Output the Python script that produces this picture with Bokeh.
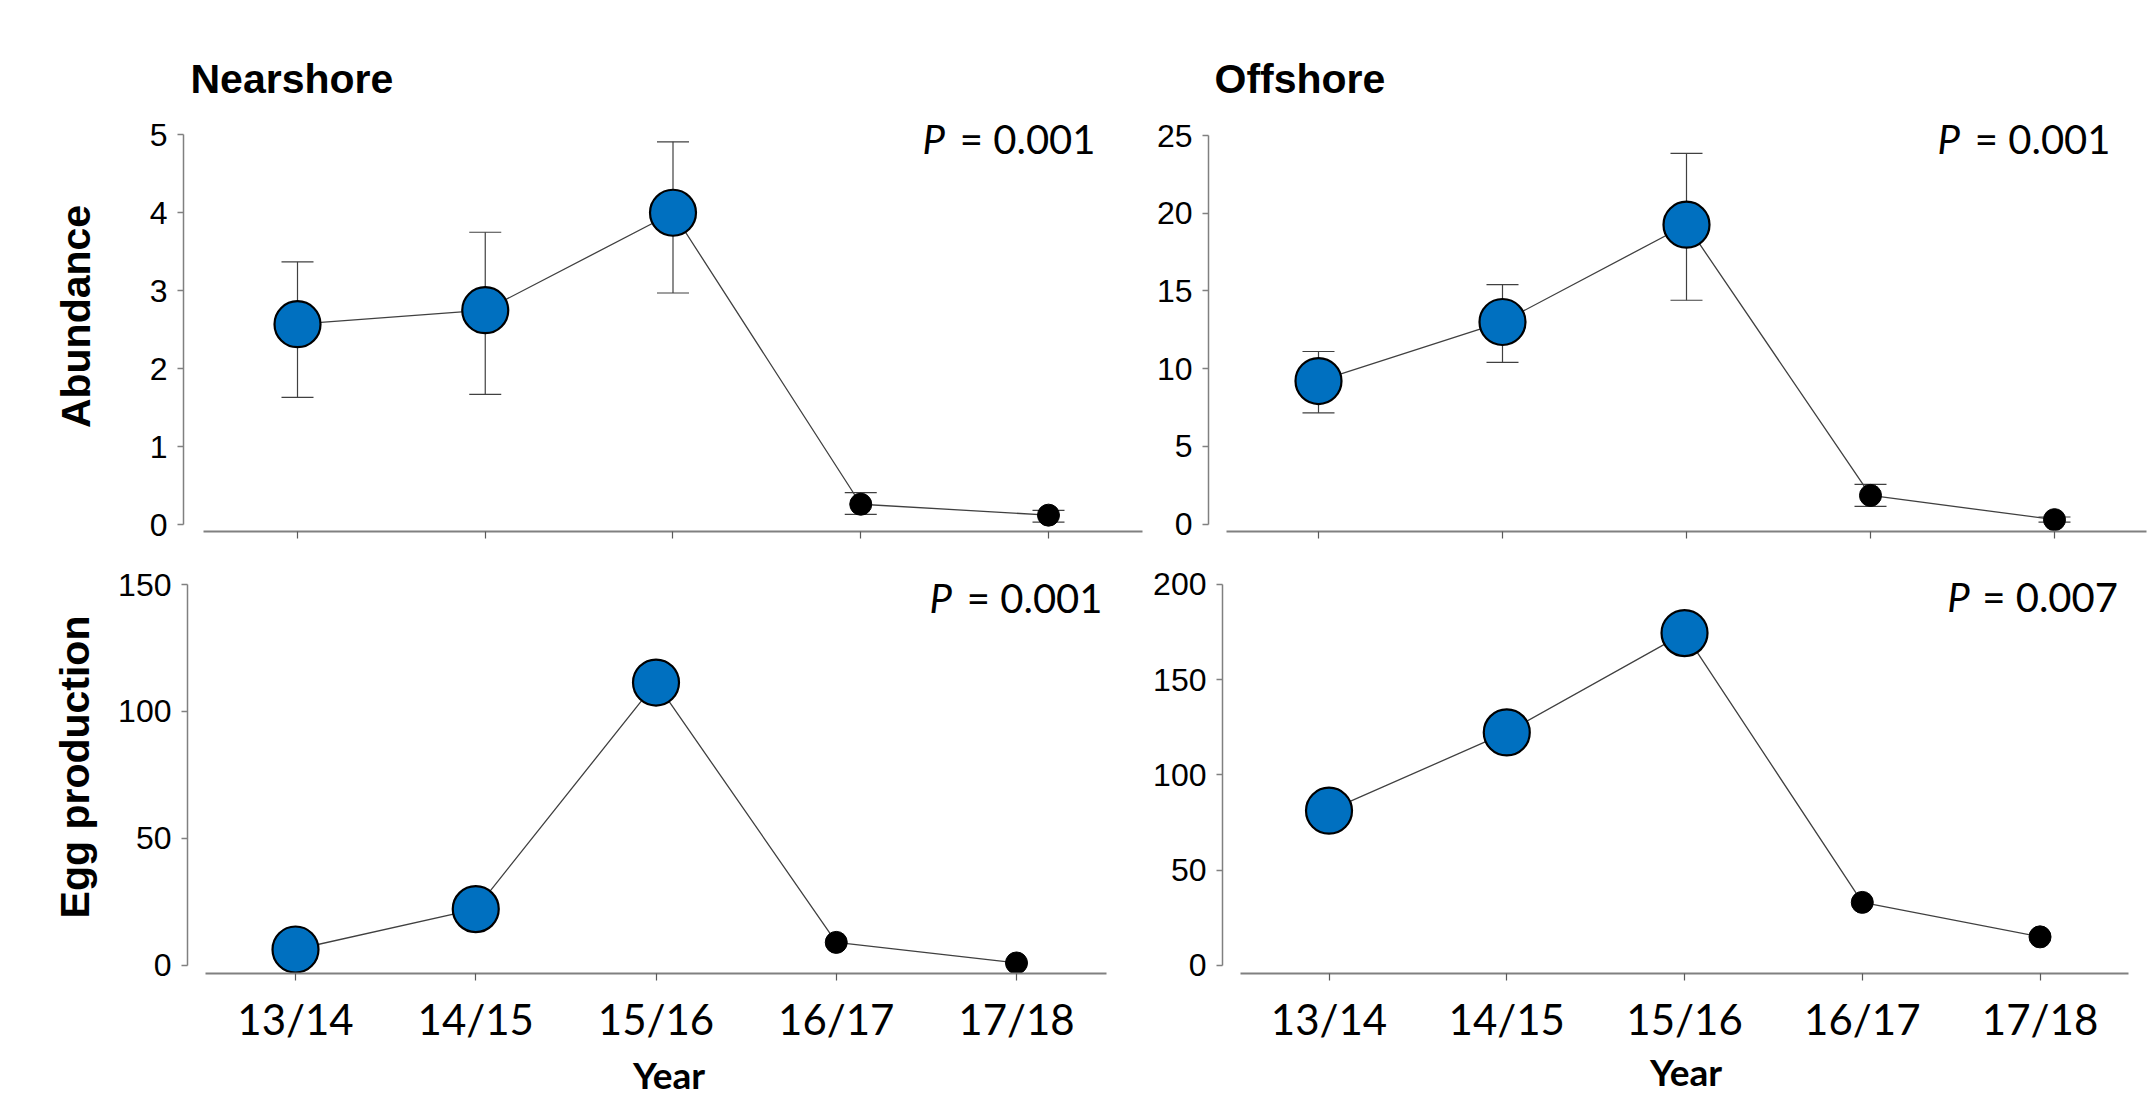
from bokeh.plotting import figure
from bokeh.models import Range1d, FixedTicker, Label, Whisker, TeeHead, ColumnDataSource
from bokeh.layouts import column, row
from bokeh.embed import file_html
from bokeh.resources import INLINE

# ---------------- data ----------------
years = ["13/14", "14/15", "15/16", "16/17", "17/18"]

near_abund = [2.57, 2.75, 4.00, 0.26, 0.12]
near_abund_lo = [1.63, 1.67, 2.97, 0.13, 0.03]
near_abund_hi = [3.37, 3.75, 4.91, 0.41, 0.18]

off_abund = [9.2, 13.0, 19.26, 1.84, 0.28]
off_abund_lo = [7.15, 10.4, 14.4, 1.13, 0.12]
off_abund_hi = [11.1, 15.4, 23.85, 2.55, 0.45]

near_egg = [6.3, 22.2, 111.4, 9.1, 1.0]
off_egg = [81.2, 122.3, 174.4, 33.1, 15.0]

p_values = ["0.001", "0.001", "0.001", "0.007"]
panel_titles = ["Nearshore", "Offshore"]
y_labels = ["Abundance", "Egg production"]
x_label = "Year"
yticks_near_abund = [0, 1, 2, 3, 4, 5]
yticks_off_abund = [0, 5, 10, 15, 20, 25]
yticks_near_egg = [0, 50, 100, 150]
yticks_off_egg = [0, 50, 100, 150, 200]

# ---------------- styling ----------------
BLUE = "#0070C0"
AX = "#808080"
TICK = "#595959"
XFONT = "Lato"
YFONT = "Liberation Sans"
xs = list(range(len(years)))
big = slice(0, 3)
small = slice(3, 5)


def make_panel(w, h, xr, yr, mb_left, mb_top, mb_bottom, yticks, yvals,
               lo=None, hi=None, show_xlabels=False):
    p = figure(width=w, height=h, x_range=Range1d(*xr), y_range=Range1d(*yr),
               output_backend="svg", toolbar_location=None,
               min_border_left=mb_left, min_border_right=0, min_border_top=mb_top,
               min_border_bottom=mb_bottom)
    p.outline_line_color = None
    p.grid.visible = False
    p.background_fill_color = "white"
    p.border_fill_color = "white"

    p.yaxis.ticker = FixedTicker(ticks=yticks)
    p.yaxis.bounds = (yticks[0], yticks[-1])
    p.yaxis.axis_line_color = AX
    p.yaxis.axis_line_width = 1.5
    p.yaxis.major_tick_line_color = AX
    p.yaxis.major_tick_line_width = 1.5
    p.yaxis.major_tick_out = 6
    p.yaxis.major_tick_in = 0
    p.yaxis.minor_tick_line_color = None
    p.yaxis.major_label_text_font = YFONT
    p.yaxis.major_label_text_font_size = "32px"
    p.yaxis.major_label_text_color = "black"
    p.yaxis.major_label_standoff = 10

    p.xaxis.ticker = FixedTicker(ticks=xs)
    p.xaxis.bounds = (-0.5, 4.5)
    p.xaxis.axis_line_color = AX
    p.xaxis.axis_line_width = 2
    p.xaxis.major_tick_line_color = TICK
    p.xaxis.major_tick_line_width = 1.2
    p.xaxis.major_tick_out = 7
    p.xaxis.major_tick_in = 0
    p.xaxis.minor_tick_line_color = None
    p.xaxis.major_label_text_font = XFONT
    p.xaxis.major_label_text_color = "black"
    if show_xlabels:
        p.xaxis.major_label_overrides = {i: y for i, y in enumerate(years)}
        p.xaxis.major_label_text_font_size = "42px"
        p.xaxis.major_label_standoff = 13
    else:
        p.xaxis.major_label_overrides = {i: "" for i in xs}
        p.xaxis.major_label_text_font_size = "1px"
        p.xaxis.major_label_standoff = 0

    if lo is not None:
        src = ColumnDataSource(dict(x=xs, lo=lo, hi=hi))
        wk = Whisker(source=src, base="x", lower="lo", upper="hi",
                     line_color="#404040", line_width=1.2, level="underlay",
                     upper_head=TeeHead(size=32, line_color="#404040", line_width=1.2),
                     lower_head=TeeHead(size=32, line_color="#404040", line_width=1.2))
        p.add_layout(wk)

    p.line(xs, yvals, line_color="#404040", line_width=1.3)
    p.scatter(xs[big], yvals[big], size=46, fill_color=BLUE, line_color="black",
              line_width=2.2)
    p.scatter(xs[small], yvals[small], size=22, fill_color="black",
              line_color="black", line_width=1)
    return p


def text_label(p, x, y, text, size, style="normal", align="left"):
    p.add_layout(Label(x=x, y=y, text=text, text_font=XFONT,
                       text_font_style=style, text_font_size=size,
                       text_align=align, text_baseline="middle",
                       text_color="black"))


def p_label(p, x_left, x_right, y, text):
    text_label(p, x_left, y, "P", "40px", "italic", "left")
    text_label(p, x_right, y, "= " + text, "40px", "normal", "right")


def set_title(p, text, offset):
    p.title.text = text
    p.title.text_font = YFONT
    p.title.text_font_style = "bold"
    p.title.text_font_size = "41px"
    p.title.text_color = "black"
    p.title.align = "left"
    p.title.offset = offset
    p.title.standoff = 0


def ylabel(p, text, standoff):
    p.yaxis.axis_label = text
    p.yaxis.axis_label_text_font = YFONT
    p.yaxis.axis_label_text_font_style = "bold"
    p.yaxis.axis_label_text_font_size = "41px"
    p.yaxis.axis_label_text_color = "black"
    p.yaxis.axis_label_standoff = standoff


def xlabel(p, text, standoff):
    p.xaxis.axis_label = text
    p.xaxis.axis_label_text_font = XFONT
    p.xaxis.axis_label_text_font_style = "bold"
    p.xaxis.axis_label_text_font_size = "37px"
    p.xaxis.axis_label_text_color = "black"
    p.xaxis.axis_label_standoff = standoff


# ---- top-left: nearshore abundance ----
tl = make_panel(1150, 560, (-0.6072, 4.5433), (-0.0898, 5.4273), 183, 101, 29,
                yticks_near_abund, near_abund, near_abund_lo, near_abund_hi)
ylabel(tl, y_labels[0], 48)
set_title(tl, panel_titles[0], 7)
p_label(tl, 3.3289, 4.2503, 4.9474, p_values[0])

# ---- top-right: offshore abundance ----
tr = make_panel(999, 560, (-0.5978, 4.5163), (-0.4826, 27.188), 58, 101, 29,
                yticks_off_abund, off_abund, off_abund_lo, off_abund_hi)
set_title(tr, panel_titles[1], 6)
p_label(tr, 3.3641, 4.3043, 24.807, p_values[1])

# ---- bottom-left: nearshore egg production ----
bl = make_panel(1150, 540, (-0.5992, 4.7434), (-3.150, 159.449), 187, 0, 127,
                yticks_near_egg, near_egg, show_xlabels=True)
ylabel(bl, y_labels[1], 17)
xlabel(bl, x_label, 5)
p_label(bl, 3.5173, 4.4771, 144.7, p_values[2])

# ---- bottom-right: offshore egg production ----
br = make_panel(999, 540, (-0.5992, 4.6158), (-4.22, 212.50), 59, 0, 124,
                yticks_off_egg, off_egg, show_xlabels=True)
xlabel(br, x_label, 2)
p_label(br, 3.4785, 4.4383, 193.5, p_values[3])

layout = column(row(tl, tr, spacing=0), row(bl, br, spacing=0), spacing=0)
open("out.html", "w").write(file_html(layout, INLINE))
